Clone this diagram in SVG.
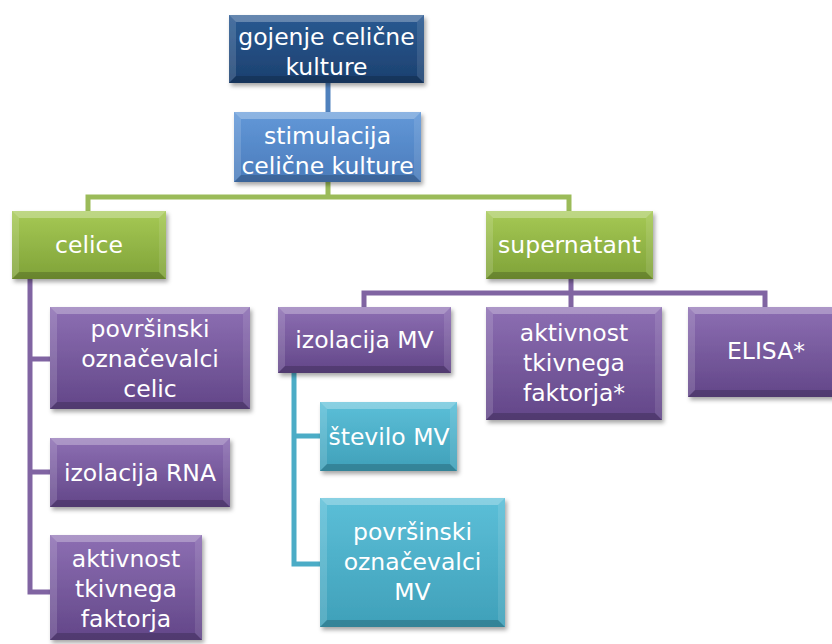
<svg xmlns="http://www.w3.org/2000/svg" width="832" height="644" viewBox="0 0 832 644">
<defs>
  <linearGradient id="gDark" x1="0" y1="0" x2="0" y2="1"><stop offset="0" stop-color="#2a5a92"/><stop offset="1" stop-color="#1c406f"/></linearGradient>
  <linearGradient id="gBlue" x1="0" y1="0" x2="0" y2="1"><stop offset="0" stop-color="#6298d8"/><stop offset="1" stop-color="#4a7bbb"/></linearGradient>
  <linearGradient id="gGreen" x1="0" y1="0" x2="0" y2="1"><stop offset="0" stop-color="#a6c955"/><stop offset="1" stop-color="#7fa238"/></linearGradient>
  <linearGradient id="gPurple" x1="0" y1="0" x2="0" y2="1"><stop offset="0" stop-color="#8d6fb3"/><stop offset="1" stop-color="#624688"/></linearGradient>
  <linearGradient id="gTeal" x1="0" y1="0" x2="0" y2="1"><stop offset="0" stop-color="#5cbfd8"/><stop offset="1" stop-color="#3fa0b9"/></linearGradient>
  <filter id="sh" x="-10%" y="-10%" width="125%" height="135%">
    <feDropShadow dx="2" dy="3" stdDeviation="2" flood-color="#000" flood-opacity="0.35"/>
  </filter>
</defs>
<style>
  .conn { fill: none; stroke-width: 5; stroke-linejoin: miter; }
  .t { font-family: "DejaVu Sans", "Noto Sans", sans-serif; font-size: 23.5px; fill: #ffffff; text-anchor: middle; }
  .bt { fill: #ffffff; fill-opacity: 0.28; }
  .bl { fill: #ffffff; fill-opacity: 0.14; }
  .bb { fill: #000000; fill-opacity: 0.18; }
  .br { fill: #ffffff; fill-opacity: 0.10; }
</style>

<g id="connectors">
  <path class="conn" stroke="#4f81bd" d="M328,83 V112"/>
  <path class="conn" stroke="#9bbb59" d="M88,211 V197 H569 V211 M328,182 V197"/>
  <path class="conn" stroke="#8064a2" d="M30,279 V592 H50 M30,359 H50 M30,472 H50"/>
  <path class="conn" stroke="#8064a2" d="M571,279 V293 M364,307 V293 H765 V307 M571,293 V307"/>
  <path class="conn" stroke="#4bacc6" d="M294,373 V564 H320 M294,436 H320"/>
</g>

<g id="n1">
  <rect x="229" y="15" width="195" height="68" fill="url(#gDark)" filter="url(#sh)"/>
  <polygon class="bt" points="229,15 424,15 417,22 236,22"/>
  <polygon class="bl" points="229,15 236,22 236,76 229,83"/>
  <polygon class="bb" points="229,83 236,76 417,76 424,83"/>
  <polygon class="br" points="424,15 424,83 417,76 417,22"/>
  <text class="t" x="326.5" y="45">gojenje celične</text>
  <text class="t" x="326.5" y="75">kulture</text>
</g>

<g id="n2">
  <rect x="234" y="112" width="187" height="70" fill="url(#gBlue)" filter="url(#sh)"/>
  <polygon class="bt" points="234,112 421,112 414,119 241,119"/>
  <polygon class="bl" points="234,112 241,119 241,175 234,182"/>
  <polygon class="bb" points="234,182 241,175 414,175 421,182"/>
  <polygon class="br" points="421,112 421,182 414,175 414,119"/>
  <text class="t" x="327.5" y="144">stimulacija</text>
  <text class="t" x="327.5" y="174">celične kulture</text>
</g>

<g id="n3">
  <rect x="12" y="211" width="154" height="68" fill="url(#gGreen)" filter="url(#sh)"/>
  <polygon class="bt" points="12,211 166,211 159,218 19,218"/>
  <polygon class="bl" points="12,211 19,218 19,272 12,279"/>
  <polygon class="bb" points="12,279 19,272 159,272 166,279"/>
  <polygon class="br" points="166,211 166,279 159,272 159,218"/>
  <text class="t" x="89" y="253">celice</text>
</g>

<g id="n4">
  <rect x="486" y="211" width="167" height="68" fill="url(#gGreen)" filter="url(#sh)"/>
  <polygon class="bt" points="486,211 653,211 646,218 493,218"/>
  <polygon class="bl" points="486,211 493,218 493,272 486,279"/>
  <polygon class="bb" points="486,279 493,272 646,272 653,279"/>
  <polygon class="br" points="653,211 653,279 646,272 646,218"/>
  <text class="t" x="569.5" y="253">supernatant</text>
</g>

<g id="n5">
  <rect x="50" y="307" width="200" height="102" fill="url(#gPurple)" filter="url(#sh)"/>
  <polygon class="bt" points="50,307 250,307 243,314 57,314"/>
  <polygon class="bl" points="50,307 57,314 57,402 50,409"/>
  <polygon class="bb" points="50,409 57,402 243,402 250,409"/>
  <polygon class="br" points="250,307 250,409 243,402 243,314"/>
  <text class="t" x="150" y="337">površinski</text>
  <text class="t" x="150" y="367">označevalci</text>
  <text class="t" x="150" y="397">celic</text>
</g>

<g id="n6">
  <rect x="50" y="438" width="180" height="69" fill="url(#gPurple)" filter="url(#sh)"/>
  <polygon class="bt" points="50,438 230,438 223,445 57,445"/>
  <polygon class="bl" points="50,438 57,445 57,500 50,507"/>
  <polygon class="bb" points="50,507 57,500 223,500 230,507"/>
  <polygon class="br" points="230,438 230,507 223,500 223,445"/>
  <text class="t" x="140" y="481">izolacija RNA</text>
</g>

<g id="n7">
  <rect x="50" y="535" width="152" height="105" fill="url(#gPurple)" filter="url(#sh)"/>
  <polygon class="bt" points="50,535 202,535 195,542 57,542"/>
  <polygon class="bl" points="50,535 57,542 57,633 50,640"/>
  <polygon class="bb" points="50,640 57,633 195,633 202,640"/>
  <polygon class="br" points="202,535 202,640 195,633 195,542"/>
  <text class="t" x="126" y="567">aktivnost</text>
  <text class="t" x="126" y="597">tkivnega</text>
  <text class="t" x="126" y="627">faktorja</text>
</g>

<g id="n8">
  <rect x="278" y="307" width="173" height="66" fill="url(#gPurple)" filter="url(#sh)"/>
  <polygon class="bt" points="278,307 451,307 444,314 285,314"/>
  <polygon class="bl" points="278,307 285,314 285,366 278,373"/>
  <polygon class="bb" points="278,373 285,366 444,366 451,373"/>
  <polygon class="br" points="451,307 451,373 444,366 444,314"/>
  <text class="t" x="364.5" y="348">izolacija MV</text>
</g>

<g id="n9">
  <rect x="486" y="307" width="176" height="113" fill="url(#gPurple)" filter="url(#sh)"/>
  <polygon class="bt" points="486,307 662,307 655,314 493,314"/>
  <polygon class="bl" points="486,307 493,314 493,413 486,420"/>
  <polygon class="bb" points="486,420 493,413 655,413 662,420"/>
  <polygon class="br" points="662,307 662,420 655,413 655,314"/>
  <text class="t" x="574" y="341">aktivnost</text>
  <text class="t" x="574" y="371">tkivnega</text>
  <text class="t" x="574" y="401">faktorja*</text>
</g>

<g id="n10">
  <rect x="688" y="307" width="156" height="90" fill="url(#gPurple)" filter="url(#sh)"/>
  <polygon class="bt" points="688,307 844,307 837,314 695,314"/>
  <polygon class="bl" points="688,307 695,314 695,390 688,397"/>
  <polygon class="bb" points="688,397 695,390 837,390 844,397"/>
  <text class="t" x="766" y="359">ELISA*</text>
</g>

<g id="n11">
  <rect x="320" y="402" width="137" height="69" fill="url(#gTeal)" filter="url(#sh)"/>
  <polygon class="bt" points="320,402 457,402 450,409 327,409"/>
  <polygon class="bl" points="320,402 327,409 327,464 320,471"/>
  <polygon class="bb" points="320,471 327,464 450,464 457,471"/>
  <polygon class="br" points="457,402 457,471 450,464 450,409"/>
  <text class="t" x="389" y="445">število MV</text>
</g>

<g id="n12">
  <rect x="320" y="498" width="185" height="129" fill="url(#gTeal)" filter="url(#sh)"/>
  <polygon class="bt" points="320,498 505,498 498,505 327,505"/>
  <polygon class="bl" points="320,498 327,505 327,620 320,627"/>
  <polygon class="bb" points="320,627 327,620 498,620 505,627"/>
  <polygon class="br" points="505,498 505,627 498,620 498,505"/>
  <text class="t" x="412.5" y="540">površinski</text>
  <text class="t" x="412.5" y="570">označevalci</text>
  <text class="t" x="412.5" y="600">MV</text>
</g>
</svg>
